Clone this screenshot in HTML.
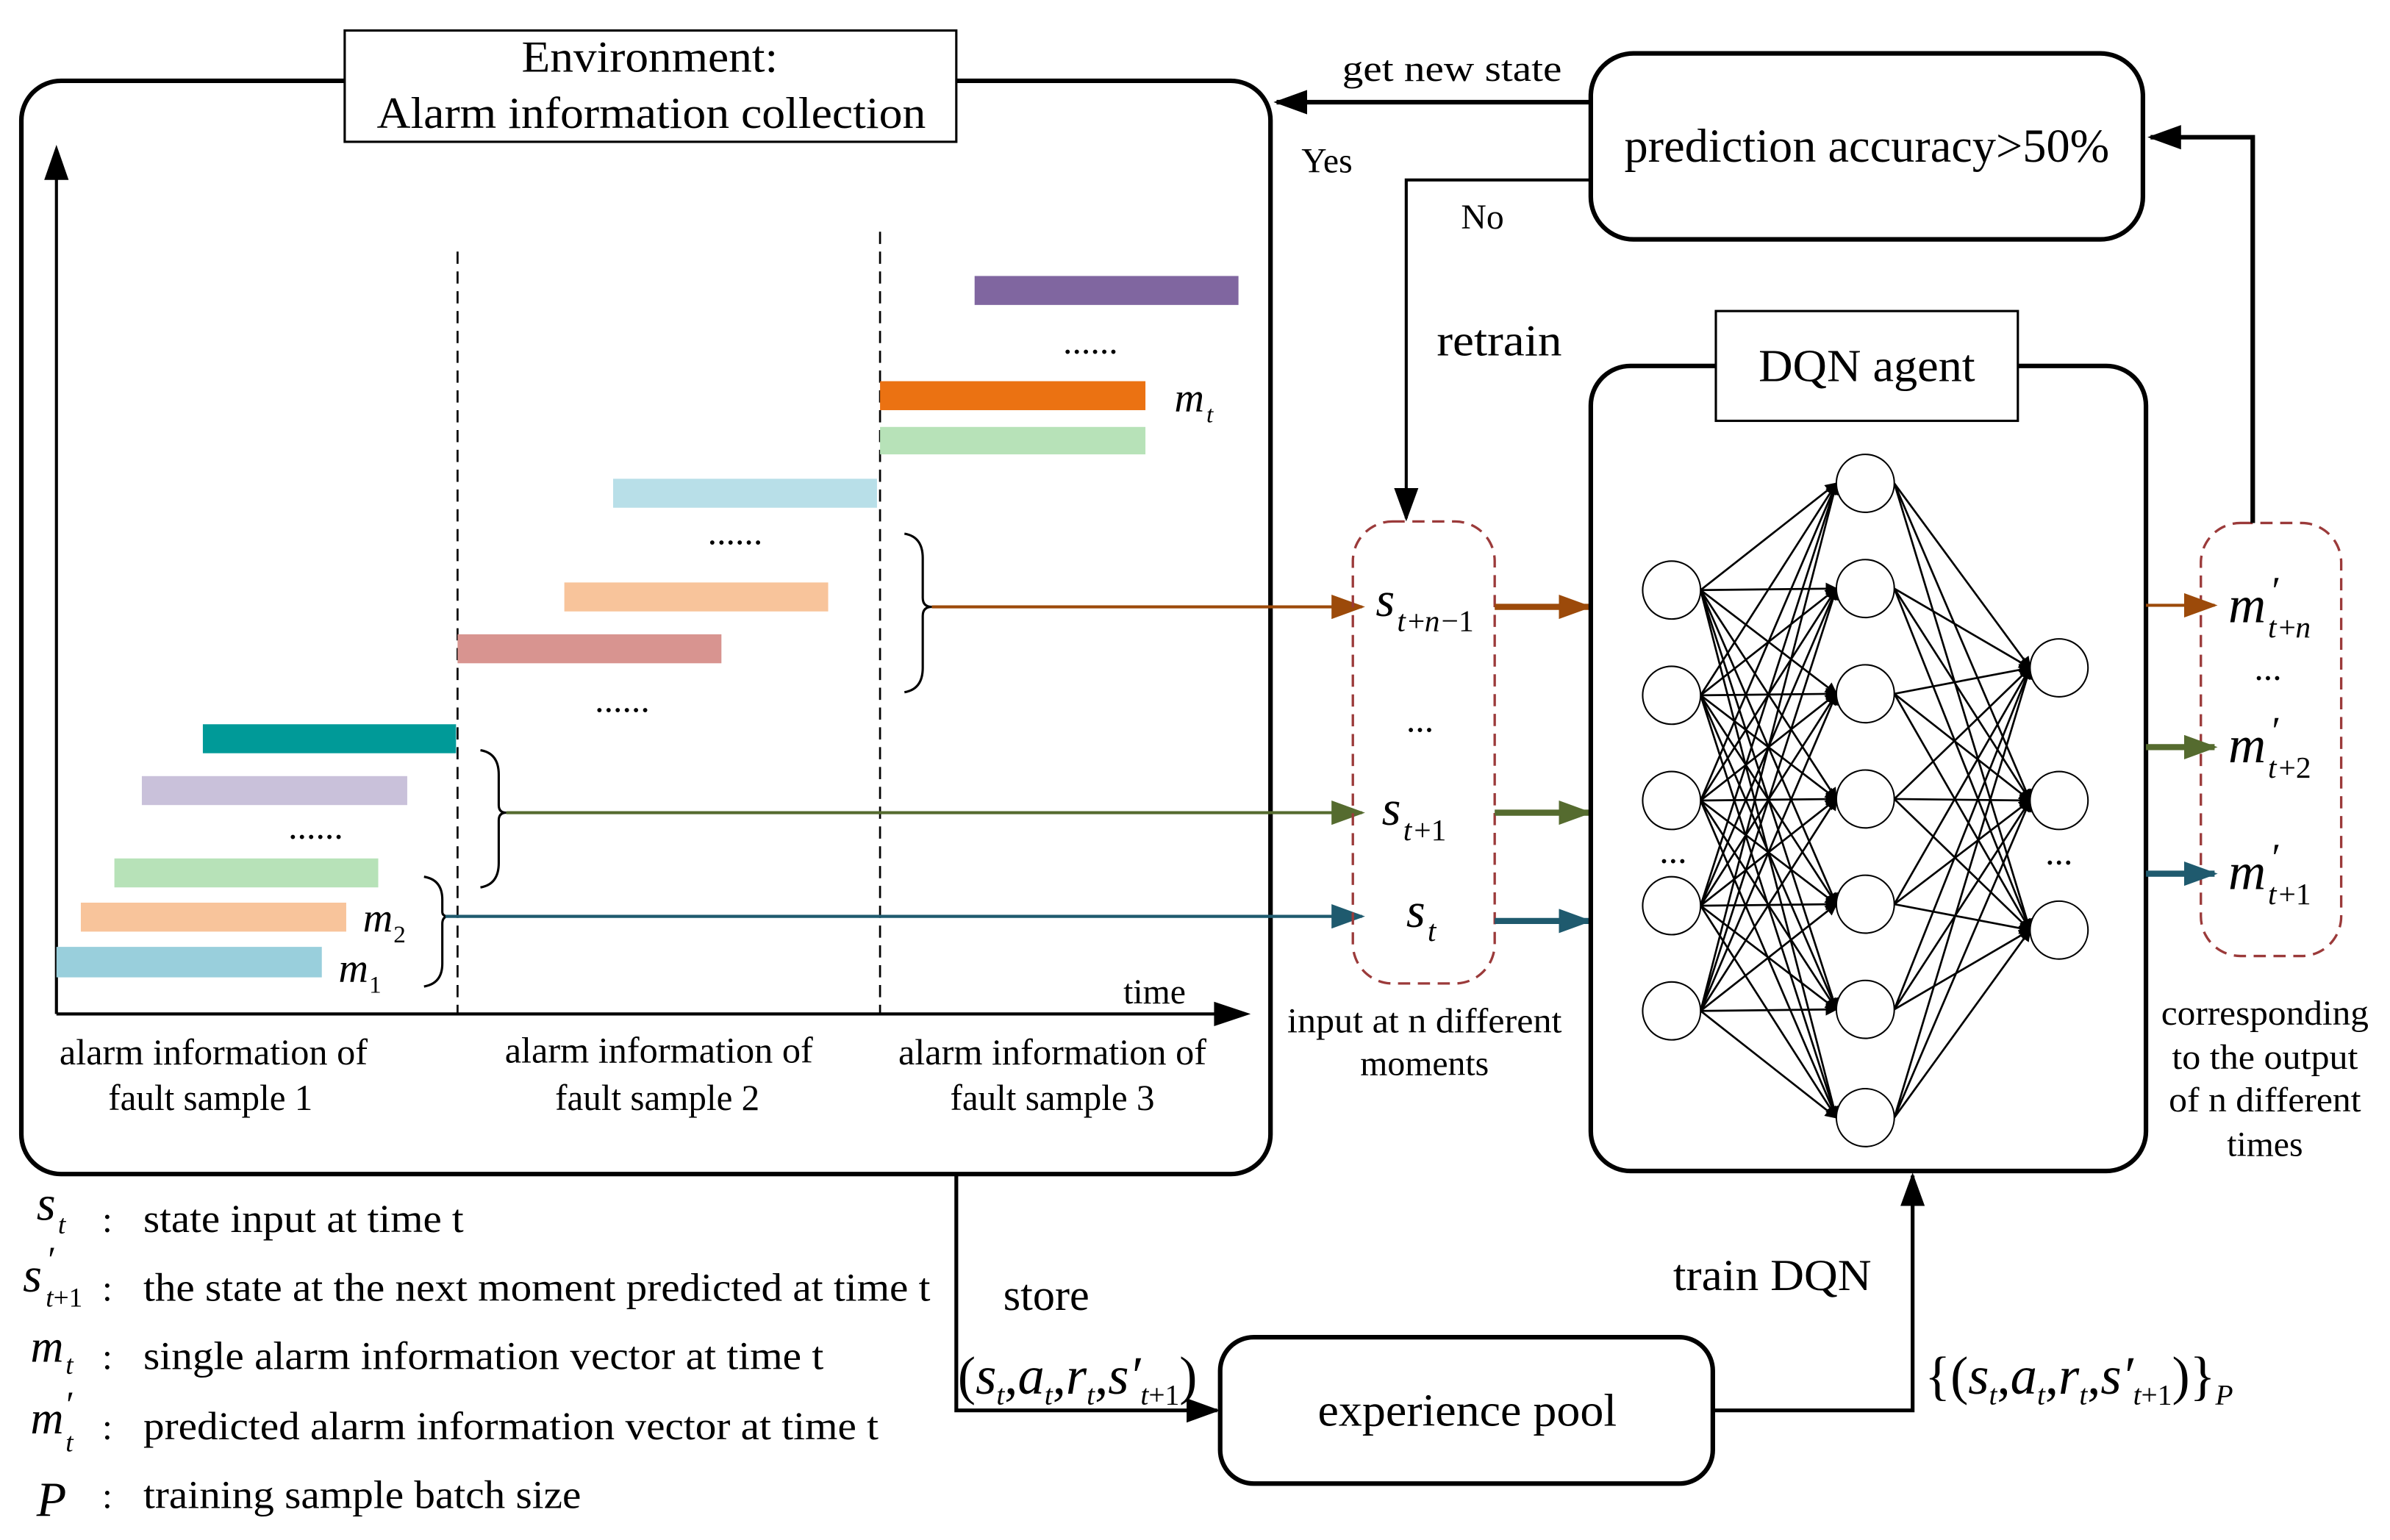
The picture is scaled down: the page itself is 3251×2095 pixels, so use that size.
<!DOCTYPE html>
<html><head><meta charset="utf-8"><style>
html,body{margin:0;padding:0;background:#fff;}
svg{display:block;}
text{font-family:"Liberation Serif",serif;fill:#000;}
.i{font-style:italic;}
</style></head><body>
<svg width="3251" height="2095" viewBox="0 0 1567 1010" preserveAspectRatio="none" xmlns="http://www.w3.org/2000/svg">
<defs>
<marker id="ab" markerWidth="8" markerHeight="8" refX="7" refY="4" orient="auto" markerUnits="userSpaceOnUse"><path d="M0,0 L8,4 L0,8 z" fill="#000"/></marker>
<marker id="big" markerWidth="22" markerHeight="16" refX="20" refY="8" orient="auto" markerUnits="userSpaceOnUse"><path d="M0,0 L22,8 L0,16 z" fill="#000"/></marker>
<marker id="mb" markerWidth="22" markerHeight="16" refX="20" refY="8" orient="auto" markerUnits="userSpaceOnUse"><path d="M0,0 L22,8 L0,16 z" fill="#9c4a0a"/></marker>
<marker id="mg" markerWidth="22" markerHeight="16" refX="20" refY="8" orient="auto" markerUnits="userSpaceOnUse"><path d="M0,0 L22,8 L0,16 z" fill="#556b2f"/></marker>
<marker id="mt" markerWidth="22" markerHeight="16" refX="20" refY="8" orient="auto" markerUnits="userSpaceOnUse"><path d="M0,0 L22,8 L0,16 z" fill="#1f5a6e"/></marker>
</defs>

<rect x="14" y="53" width="819" height="717" rx="26" fill="none" stroke="#000" stroke-width="3"/>
<rect x="226" y="20" width="401" height="73" fill="#fff" stroke="#000" stroke-width="1.5"/>
<text x="426" y="47" font-size="29" text-anchor="middle" textLength="168" lengthAdjust="spacingAndGlyphs">Environment:</text>
<text x="427" y="84" font-size="29" text-anchor="middle" textLength="360" lengthAdjust="spacingAndGlyphs">Alarm information collection</text>

<line x1="37" y1="665" x2="37" y2="112" stroke="#000" stroke-width="2"/>
<path d="M37,95 L29,118 L45,118 z" fill="#000"/>
<line x1="37" y1="665" x2="800" y2="665" stroke="#000" stroke-width="2"/>
<path d="M820,665 L796,657 L796,673 z" fill="#000"/>
<text x="757" y="658" font-size="23" text-anchor="middle">time</text>
<line x1="300" y1="165" x2="300" y2="665" stroke="#000" stroke-width="1.3" stroke-dasharray="8,5"/>
<line x1="577" y1="152" x2="577" y2="665" stroke="#000" stroke-width="1.3" stroke-dasharray="8,5"/>

<rect x="639" y="181" width="173" height="19" fill="#8066a0"/>
<text x="715" y="232" font-size="24" text-anchor="middle">......</text>
<rect x="577" y="250" width="174" height="19" fill="#eb7212"/>
<text x="770" y="270" font-size="27" class="i">m</text><text x="791" y="277" font-size="16" class="i">t</text>
<rect x="577" y="280" width="174" height="18" fill="#b7e2b8"/>
<rect x="402" y="314" width="173" height="19" fill="#b8dfe8"/>
<text x="482" y="357" font-size="24" text-anchor="middle">......</text>
<rect x="370" y="382" width="173" height="19" fill="#f8c49b"/>
<rect x="300" y="416" width="173" height="19" fill="#d89490"/>
<text x="408" y="467" font-size="24" text-anchor="middle">......</text>
<rect x="133" y="475" width="166" height="19" fill="#009a98"/>
<rect x="93" y="509" width="174" height="19" fill="#c9c1da"/>
<text x="207" y="550" font-size="24" text-anchor="middle">......</text>
<rect x="75" y="563" width="173" height="19" fill="#b7e2b8"/>
<rect x="53" y="592" width="174" height="19" fill="#f8c49b"/>
<text x="238" y="611" font-size="27" class="i">m</text><text x="258" y="618" font-size="16">2</text>
<rect x="37" y="621" width="174" height="20" fill="#99cfdc"/>
<text x="222" y="644" font-size="27" class="i">m</text><text x="242" y="651" font-size="16">1</text>

<path d="M278,575 Q290,577 290,590 L290,598 Q290,601 294,601 Q290,601 290,606 L290,632 Q290,645 278,647" fill="none" stroke="#000" stroke-width="1.5"/>
<path d="M315,492 Q327,494 327,508 L327,528 Q327,533 332,533 Q327,533 327,538 L327,566 Q327,580 315,582" fill="none" stroke="#000" stroke-width="1.5"/>
<path d="M593,350 Q605,352 605,366 L605,392 Q605,398 611,398 Q605,398 605,404 L605,438 Q605,452 593,454" fill="none" stroke="#000" stroke-width="1.5"/>

<line x1="292" y1="601" x2="893" y2="601" stroke="#1f5a6e" stroke-width="2" marker-end="url(#mt)"/>
<line x1="332" y1="533" x2="893" y2="533" stroke="#556b2f" stroke-width="2" marker-end="url(#mg)"/>
<line x1="611" y1="398" x2="893" y2="398" stroke="#9c4a0a" stroke-width="2" marker-end="url(#mb)"/>

<g font-size="24" text-anchor="middle">
<text x="140" y="698" textLength="202" lengthAdjust="spacingAndGlyphs">alarm information of</text>
<text x="138" y="728" textLength="134" lengthAdjust="spacingAndGlyphs">fault sample 1</text>
<text x="432" y="697" textLength="202" lengthAdjust="spacingAndGlyphs">alarm information of</text>
<text x="431" y="728" textLength="134" lengthAdjust="spacingAndGlyphs">fault sample 2</text>
<text x="690" y="698" textLength="202" lengthAdjust="spacingAndGlyphs">alarm information of</text>
<text x="690" y="728" textLength="134" lengthAdjust="spacingAndGlyphs">fault sample 3</text>
</g>

<rect x="887" y="342" width="93" height="303" rx="26" fill="none" stroke="#9b3a3a" stroke-width="1.6" stroke-dasharray="8,5"/>
<text x="902" y="404" font-size="32" class="i">s</text><text x="916" y="414" font-size="20" class="i">t</text><text x="923" y="414" font-size="20">+</text><text x="934" y="414" font-size="20" class="i">n</text><text x="945" y="414" font-size="20">−1</text>
<text x="931" y="480" font-size="24" text-anchor="middle">...</text>
<text x="906" y="541" font-size="32" class="i">s</text><text x="920" y="551" font-size="20" class="i">t</text><text x="927" y="551" font-size="20">+1</text>
<text x="922" y="608" font-size="32" class="i">s</text><text x="936" y="617" font-size="20" class="i">t</text>
<line x1="980" y1="398" x2="1042" y2="398" stroke="#9c4a0a" stroke-width="4" marker-end="url(#mb)"/>
<line x1="980" y1="533" x2="1042" y2="533" stroke="#556b2f" stroke-width="4" marker-end="url(#mg)"/>
<line x1="980" y1="604" x2="1042" y2="604" stroke="#1f5a6e" stroke-width="4" marker-end="url(#mt)"/>
<text x="934" y="677" font-size="23" text-anchor="middle" textLength="180" lengthAdjust="spacingAndGlyphs">input at n different</text>
<text x="934" y="705" font-size="23" text-anchor="middle">moments</text>

<rect x="1043" y="240" width="364" height="528" rx="26" fill="none" stroke="#000" stroke-width="3"/>
<rect x="1125" y="204" width="198" height="72" fill="#fff" stroke="#000" stroke-width="1.5"/>
<text x="1224" y="250" font-size="30" text-anchor="middle" textLength="142" lengthAdjust="spacingAndGlyphs">DQN agent</text>

<g stroke="#000" stroke-width="1.3" marker-end="url(#ab)">
<line x1="1115" y1="387" x2="1204" y2="317"/><line x1="1115" y1="387" x2="1204" y2="386"/><line x1="1115" y1="387" x2="1204" y2="455"/><line x1="1115" y1="387" x2="1204" y2="524"/><line x1="1115" y1="387" x2="1204" y2="593"/><line x1="1115" y1="387" x2="1204" y2="662"/><line x1="1115" y1="387" x2="1204" y2="733"/>
<line x1="1115" y1="456" x2="1204" y2="317"/><line x1="1115" y1="456" x2="1204" y2="386"/><line x1="1115" y1="456" x2="1204" y2="455"/><line x1="1115" y1="456" x2="1204" y2="524"/><line x1="1115" y1="456" x2="1204" y2="593"/><line x1="1115" y1="456" x2="1204" y2="662"/><line x1="1115" y1="456" x2="1204" y2="733"/>
<line x1="1115" y1="525" x2="1204" y2="317"/><line x1="1115" y1="525" x2="1204" y2="386"/><line x1="1115" y1="525" x2="1204" y2="455"/><line x1="1115" y1="525" x2="1204" y2="524"/><line x1="1115" y1="525" x2="1204" y2="593"/><line x1="1115" y1="525" x2="1204" y2="662"/><line x1="1115" y1="525" x2="1204" y2="733"/>
<line x1="1115" y1="594" x2="1204" y2="317"/><line x1="1115" y1="594" x2="1204" y2="386"/><line x1="1115" y1="594" x2="1204" y2="455"/><line x1="1115" y1="594" x2="1204" y2="524"/><line x1="1115" y1="594" x2="1204" y2="593"/><line x1="1115" y1="594" x2="1204" y2="662"/><line x1="1115" y1="594" x2="1204" y2="733"/>
<line x1="1115" y1="663" x2="1204" y2="317"/><line x1="1115" y1="663" x2="1204" y2="386"/><line x1="1115" y1="663" x2="1204" y2="455"/><line x1="1115" y1="663" x2="1204" y2="524"/><line x1="1115" y1="663" x2="1204" y2="593"/><line x1="1115" y1="663" x2="1204" y2="662"/><line x1="1115" y1="663" x2="1204" y2="733"/>
<line x1="1242" y1="317" x2="1331" y2="438"/><line x1="1242" y1="317" x2="1331" y2="525"/><line x1="1242" y1="317" x2="1331" y2="610"/>
<line x1="1242" y1="386" x2="1331" y2="438"/><line x1="1242" y1="386" x2="1331" y2="525"/><line x1="1242" y1="386" x2="1331" y2="610"/>
<line x1="1242" y1="455" x2="1331" y2="438"/><line x1="1242" y1="455" x2="1331" y2="525"/><line x1="1242" y1="455" x2="1331" y2="610"/>
<line x1="1242" y1="524" x2="1331" y2="438"/><line x1="1242" y1="524" x2="1331" y2="525"/><line x1="1242" y1="524" x2="1331" y2="610"/>
<line x1="1242" y1="593" x2="1331" y2="438"/><line x1="1242" y1="593" x2="1331" y2="525"/><line x1="1242" y1="593" x2="1331" y2="610"/>
<line x1="1242" y1="662" x2="1331" y2="438"/><line x1="1242" y1="662" x2="1331" y2="525"/><line x1="1242" y1="662" x2="1331" y2="610"/>
<line x1="1242" y1="733" x2="1331" y2="438"/><line x1="1242" y1="733" x2="1331" y2="525"/><line x1="1242" y1="733" x2="1331" y2="610"/>
</g>
<g fill="#fff" stroke="#000" stroke-width="1">
<ellipse cx="1096" cy="387" rx="19" ry="19"/><ellipse cx="1096" cy="456" rx="19" ry="19"/><ellipse cx="1096" cy="525" rx="19" ry="19"/><ellipse cx="1096" cy="594" rx="19" ry="19"/><ellipse cx="1096" cy="663" rx="19" ry="19"/>
<ellipse cx="1223" cy="317" rx="19" ry="19"/><ellipse cx="1223" cy="386" rx="19" ry="19"/><ellipse cx="1223" cy="455" rx="19" ry="19"/><ellipse cx="1223" cy="524" rx="19" ry="19"/><ellipse cx="1223" cy="593" rx="19" ry="19"/><ellipse cx="1223" cy="662" rx="19" ry="19"/><ellipse cx="1223" cy="733" rx="19" ry="19"/>
<ellipse cx="1350" cy="438" rx="19" ry="19"/><ellipse cx="1350" cy="525" rx="19" ry="19"/><ellipse cx="1350" cy="610" rx="19" ry="19"/>
</g>
<text x="1097" y="566" font-size="24" text-anchor="middle">...</text>
<text x="1350" y="567" font-size="24" text-anchor="middle">...</text>

<rect x="1443" y="343" width="92" height="284" rx="26" fill="none" stroke="#9b3a3a" stroke-width="1.6" stroke-dasharray="8,5"/>
<line x1="1407" y1="397" x2="1452" y2="397" stroke="#9c4a0a" stroke-width="2" marker-end="url(#mb)"/>
<line x1="1407" y1="490" x2="1452" y2="490" stroke="#556b2f" stroke-width="4" marker-end="url(#mg)"/>
<line x1="1407" y1="573" x2="1452" y2="573" stroke="#1f5a6e" stroke-width="4" marker-end="url(#mt)"/>
<text x="1461" y="408" font-size="34" class="i">m</text><text x="1488" y="396" font-size="26" class="i">′</text><text x="1487" y="418" font-size="20" class="i">t</text><text x="1494" y="418" font-size="20">+</text><text x="1505" y="418" font-size="20" class="i">n</text>
<text x="1487" y="446" font-size="24" text-anchor="middle">...</text>
<text x="1461" y="500" font-size="34" class="i">m</text><text x="1488" y="488" font-size="26" class="i">′</text><text x="1487" y="510" font-size="20" class="i">t</text><text x="1494" y="510" font-size="20">+2</text>
<text x="1461" y="583" font-size="34" class="i">m</text><text x="1488" y="571" font-size="26" class="i">′</text><text x="1487" y="593" font-size="20" class="i">t</text><text x="1494" y="593" font-size="20">+1</text>
<g font-size="23" text-anchor="middle">
<text x="1485" y="672" textLength="136" lengthAdjust="spacingAndGlyphs">corresponding</text>
<text x="1485" y="701" textLength="122" lengthAdjust="spacingAndGlyphs">to the output</text>
<text x="1485" y="729" textLength="126" lengthAdjust="spacingAndGlyphs">of n different</text>
<text x="1485" y="758">times</text>
</g>

<polyline points="1477,343 1477,90 1410,90" fill="none" stroke="#000" stroke-width="3" marker-end="url(#big)"/>
<rect x="1043" y="35" width="362" height="122" rx="28" fill="none" stroke="#000" stroke-width="3"/>
<text x="1224" y="106" font-size="31" text-anchor="middle" textLength="318" lengthAdjust="spacingAndGlyphs">prediction accuracy&gt;50%</text>
<line x1="1043" y1="67" x2="837" y2="67" stroke="#000" stroke-width="3" marker-end="url(#big)"/>
<text x="952" y="53" font-size="24" text-anchor="middle" textLength="144" lengthAdjust="spacingAndGlyphs">get new state</text>
<text x="870" y="113" font-size="23" text-anchor="middle">Yes</text>
<polyline points="1043,118 922,118 922,340" fill="none" stroke="#000" stroke-width="2" marker-end="url(#big)"/>
<text x="972" y="150" font-size="23" text-anchor="middle">No</text>
<text x="983" y="233" font-size="29" text-anchor="middle" textLength="82" lengthAdjust="spacingAndGlyphs">retrain</text>

<polyline points="627,770 627,925 798,925" fill="none" stroke="#000" stroke-width="2.5" marker-end="url(#big)"/>
<text x="686" y="859" font-size="29" text-anchor="middle">store</text>
<text x="628" y="914" font-size="35">(<tspan class="i">s</tspan><tspan font-size="19" class="i" dy="7">t</tspan><tspan dy="-7">,</tspan><tspan class="i">a</tspan><tspan font-size="19" class="i" dy="7">t</tspan><tspan dy="-7">,</tspan><tspan class="i">r</tspan><tspan font-size="19" class="i" dy="7">t</tspan><tspan dy="-7">,</tspan><tspan class="i">s′</tspan><tspan font-size="19" dy="7"><tspan class="i">t</tspan>+1</tspan><tspan dy="-7">)</tspan></text>
<rect x="800" y="877" width="323" height="96" rx="22" fill="none" stroke="#000" stroke-width="3"/>
<text x="962" y="935" font-size="30" text-anchor="middle" textLength="196" lengthAdjust="spacingAndGlyphs">experience pool</text>
<polyline points="1123,925 1254,925 1254,771" fill="none" stroke="#000" stroke-width="2.5" marker-end="url(#big)"/>
<text x="1162" y="846" font-size="29" text-anchor="middle" textLength="130" lengthAdjust="spacingAndGlyphs">train DQN</text>
<text x="1262" y="914" font-size="35">{(<tspan class="i">s</tspan><tspan font-size="19" class="i" dy="7">t</tspan><tspan dy="-7">,</tspan><tspan class="i">a</tspan><tspan font-size="19" class="i" dy="7">t</tspan><tspan dy="-7">,</tspan><tspan class="i">r</tspan><tspan font-size="19" class="i" dy="7">t</tspan><tspan dy="-7">,</tspan><tspan class="i">s′</tspan><tspan font-size="19" dy="7"><tspan class="i">t</tspan>+1</tspan><tspan dy="-7">)}</tspan><tspan font-size="19" class="i" dy="7">P</tspan></text>

<text x="24" y="800" font-size="32" class="i">s</text><text x="38" y="809" font-size="18" class="i">t</text>
<text x="67" y="808" font-size="24">:</text><text x="94" y="808" font-size="26" textLength="210" lengthAdjust="spacingAndGlyphs">state input at time t</text>
<text x="15" y="847" font-size="32" class="i">s</text><text x="30" y="834" font-size="24" class="i">′</text><text x="30" y="857" font-size="18"><tspan class="i">t</tspan>+1</text>
<text x="67" y="853" font-size="24">:</text><text x="94" y="853" font-size="26" textLength="516" lengthAdjust="spacingAndGlyphs">the state at the next moment predicted at time t</text>
<text x="20" y="893" font-size="30" class="i">m</text><text x="43" y="901" font-size="18" class="i">t</text>
<text x="67" y="898" font-size="24">:</text><text x="94" y="898" font-size="26" textLength="446" lengthAdjust="spacingAndGlyphs">single alarm information vector at time t</text>
<text x="20" y="940" font-size="30" class="i">m</text><text x="42" y="929" font-size="24" class="i">′</text><text x="43" y="952" font-size="18" class="i">t</text>
<text x="67" y="944" font-size="24">:</text><text x="94" y="944" font-size="26" textLength="482" lengthAdjust="spacingAndGlyphs">predicted alarm information vector at time t</text>
<text x="24" y="994" font-size="32" class="i">P</text>
<text x="67" y="989" font-size="24">:</text><text x="94" y="989" font-size="26" textLength="287" lengthAdjust="spacingAndGlyphs">training sample batch size</text>
</svg>
</body></html>
